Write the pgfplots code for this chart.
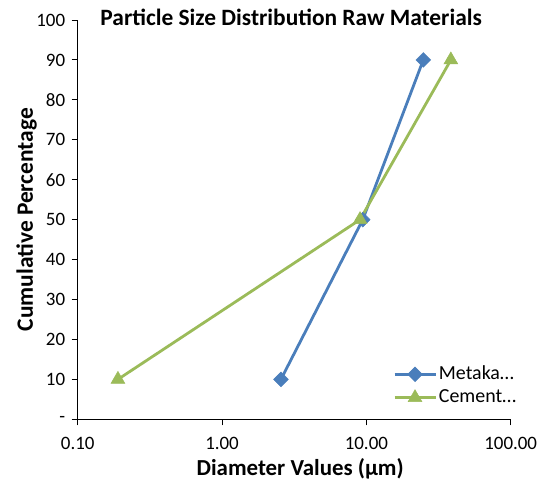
\documentclass[border=0pt]{standalone}
\usepackage{fontspec}
\setmainfont{Carlito}
\usepackage{pgfplots}
\pgfplotsset{compat=1.18}
\definecolor{mblue}{RGB}{74,126,187}
\definecolor{cgreen}{RGB}{155,187,89}
\begin{document}
\begin{tikzpicture}
\begin{axis}[
  scale only axis, width=433bp, height=399.3bp,
  xmode=log, log basis x=10,
  xmin=0.1, xmax=100, ymin=0, ymax=100,
  axis lines=left, axis line style={-, line width=0.9bp, black},
  xtick={0.1,1,10,100}, xticklabels={0.10,1.00,10.00,100.00},
  minor xtick={},
  ytick={0,10,...,100}, yticklabels={-,10,20,30,40,50,60,70,80,90,100},
  tick align=outside, major tick length=6bp,
  tick style={black, line width=0.9bp},
  ticklabel style={font=\fontsize{19}{19}\selectfont},
  xticklabel style={yshift=-8bp},
  yticklabel style={xshift=-3bp},
  /pgf/number format/assume math mode=true,
  title={Particle Size Distribution Raw Materials},
  title style={font=\bfseries\fontsize{23.5}{23.5}\selectfont, at={(0.5,1)}, anchor=base, yshift=-11bp, xshift=-3bp},
  xlabel={Diameter Values (µm)},
  xlabel style={font=\bfseries\fontsize{23}{23}\selectfont, at={([yshift=-55.7bp,xshift=6bp]axis description cs:0.5,0)}, anchor=base},
  ylabel={Cumulative Percentage},
  ylabel style={font=\bfseries\fontsize{23.5}{23.5}\selectfont, at={([xshift=-44.7bp]axis description cs:0,0.5)}, anchor=base, rotate=0},
  legend style={draw=none, fill=none, inner sep=0pt, at={(0.728,0.0834)}, anchor=west,
    font=\fontsize{20}{20}\selectfont, row sep=5.4bp,
    nodes={inner xsep=2bp, inner ysep=0bp, text height=14bp, text depth=4bp}},
  legend cell align=left,
  legend image code/.code={\draw[mark repeat=2,mark phase=2,#1] plot coordinates {(0bp,0bp)(20.5bp,0bp)(41bp,0bp)};},
]
\addplot[mblue, line width=2.8bp, mark=square*, mark size=5.2bp, mark options={rotate=45, line width=0.5bp}]
  coordinates {(2.56,10) (9.44,50) (24.8,90)};
\addlegendentry{Metaka…}
\addplot[cgreen, line width=2.8bp, mark=triangle*, mark size=8bp, mark options={line width=0.5bp}]
  coordinates {(0.19,10) (9.04,50) (38.5,90)};
\addlegendentry{Cement…}
\end{axis}
\pgfresetboundingbox
\useasboundingbox (-77.7bp,-63.7bp) rectangle (471.3bp,419.3bp);
\end{tikzpicture}
\end{document}
